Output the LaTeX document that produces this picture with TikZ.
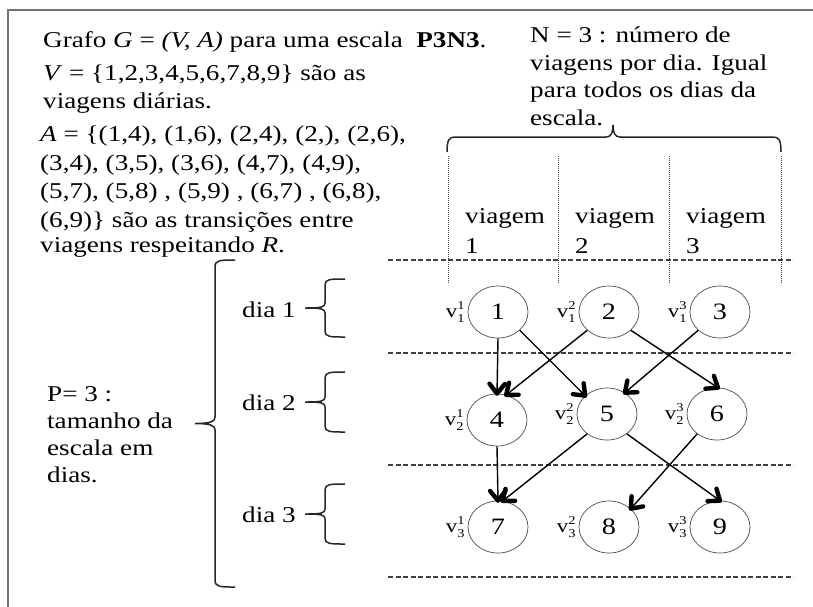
\documentclass[tikz,border=0pt]{standalone}
\usepackage{fontspec}
\setmainfont{Liberation Serif}[FakeStretch=1.2]
\usetikzlibrary{shapes.geometric,calc}
\newcommand\conn[2]{%
  \draw[arr] (#1) -- (#2);
  \draw[tipst] ($(#2)!12.5pt!38:(#1)$) -- (#2) -- ($(#2)!12.5pt!-38:(#1)$);}
\newcommand\vl[2]{v\rlap{\raisebox{8pt}{\fontsize{12}{12}\selectfont #1}}\raisebox{-5pt}{\fontsize{12}{12}\selectfont #2}}
\begin{document}
\begin{tikzpicture}[x=1pt,y=-1pt,
  txt/.style={anchor=base west, inner sep=0pt, font=\fontsize{22.6}{26}\selectfont},
  trip/.style={ellipse, draw=black!70, line width=0.7pt, minimum width=60pt, minimum height=52pt, inner sep=0pt, font=\fontsize{23.5}{23.5}\selectfont},
  vlab/.style={label={[inner sep=1pt, label distance=2pt, font=\fontsize{19}{19}\selectfont]left:#1}},
  arr/.style={line width=1.4pt},
  tipst/.style={line width=4.4pt, line cap=round, line join=round},
  sep/.style={dash pattern=on 5pt off 2.5pt, line width=1.2pt, black!75},
  col/.style={densely dotted, line width=1pt, black!70},
  brc/.style={line width=1.5pt, black!85},
  frameline/.style={line width=1.3pt, black!55}]
\useasboundingbox (0,0) rectangle (813,606);
% frame
\draw[frameline] (814,10) -- (8,10) -- (8,607);
% left text
\node[txt] (t1) at (43,47) {Grafo \textit{G} = \textit{(V, A)} para uma escala \ \textbf{P3N3}.};
\node[txt] (t2) at (43,80) {\textit{V} = \{1,2,3,4,5,6,7,8,9\} são as};
\node[txt] (t3) at (43,108) {viagens diárias.};
\node[txt] (t4) at (40,141) {\textit{A} = \{(1,4), (1,6), (2,4), (2,), (2,6),};
\node[txt] (t5) at (40,170) {(3,4), (3,5), (3,6), (4,7), (4,9),};
\node[txt] (t6) at (40,198) {(5,7), (5,8) , (5,9) , (6,7) , (6,8),};
\node[txt] (t7) at (40,227) {(6,9)\} são as transições entre};
\node[txt] (t8) at (40,252) {viagens respeitando \textit{R}.};
% right top text
\node[txt] (r1) at (530,42) {N = 3 : número de};
\node[txt] (r2) at (530,70) {viagens por dia. Igual};
\node[txt] (r3) at (530,97) {para todos os dias da};
\node[txt] (r4) at (530,125) {escala.};
% top brace
\draw[brc] (447,152) .. controls (447,140) and (449,137) .. (455,137) -- (606,137)
  .. controls (611,137) and (613,133) .. (613,125)
  .. controls (613,133) and (615,137) .. (620,137) -- (773,137)
  .. controls (779,137) and (781,140) .. (781,152);
% column separators
\foreach \x in {448,558,669,781} \draw[col] (\x,156) -- (\x,284);
% column headings
\node[txt] (h1) at (465,223) {viagem};
\node[txt] (h1n) at (465,253) {1};
\node[txt] (h2) at (575,223) {viagem};
\node[txt] (h2n) at (575,253) {2};
\node[txt] (h3) at (686,223) {viagem};
\node[txt] (h3n) at (686,253) {3};
% day separators
\foreach \y in {260,353,465,577} \draw[sep] (388,\y) -- (793,\y);
% P text
\node[txt] (p1) at (47,401) {P= 3 :};
\node[txt] (p2) at (47,428) {tamanho da};
\node[txt] (p3) at (47,455) {escala em};
\node[txt] (p4) at (47,482) {dias.};
% big brace
\draw[brc] (235,260) .. controls (220,260) and (215,260) .. (215,267) -- (215,417)
  .. controls (215,421) and (212,423.5) .. (195,423.5)
  .. controls (212,423.5) and (215,426) .. (215,430) -- (215,580)
  .. controls (215,587) and (220,587) .. (235,587);
% day labels and braces
\node[txt] (d1) at (242,317) {dia 1};
\node[txt] (d2) at (242,410) {dia 2};
\node[txt] (d3) at (242,522) {dia 3};
\foreach \a/\b in {279/337,372/432,484/544}{
  \pgfmathsetmacro\m{(\a+\b)/2}
  \draw[brc] (345,\a) .. controls (330,\a) and (325,\a) .. (325,\a+6) -- (325,\m-5)
    .. controls (325,\m-1) and (322,\m) .. (305,\m)
    .. controls (322,\m) and (325,\m+1) .. (325,\m+5) -- (325,\b-6)
    .. controls (325,\b) and (330,\b) .. (345,\b);
}
% trip nodes
\node[trip, vlab={\vl{1}{1}}] (n1) at (498,312) {1};
\node[trip, vlab={\vl{2}{1}}] (n2) at (609,312) {2};
\node[trip, vlab={\vl{3}{1}}] (n3) at (720,312) {3};
\node[trip, vlab={\vl{1}{2}}] (n4) at (497,420) {4};
\node[trip, vlab={\vl{2}{2}}] (n5) at (607,414) {5};
\node[trip, vlab={\vl{3}{2}}] (n6) at (717,414) {6};
\node[trip, vlab={\vl{1}{3}}] (n7) at (498,527) {7};
\node[trip, vlab={\vl{2}{3}}] (n8) at (609,527) {8};
\node[trip, vlab={\vl{3}{3}}] (n9) at (720,527) {9};
% transitions
\conn{n1.south}{n4.north}
\conn{n1.-40}{n5.140}
\conn{n2.-140}{n4.70}
\conn{n2.-40}{n6.88}
\conn{n3.-140}{n5.50}
\conn{n4.south}{n7.north}
\conn{n5.-135}{n7.80}
\conn{n5.-45}{n9.north}
\conn{n6.-135}{n8.40}
\end{tikzpicture}
\end{document}
